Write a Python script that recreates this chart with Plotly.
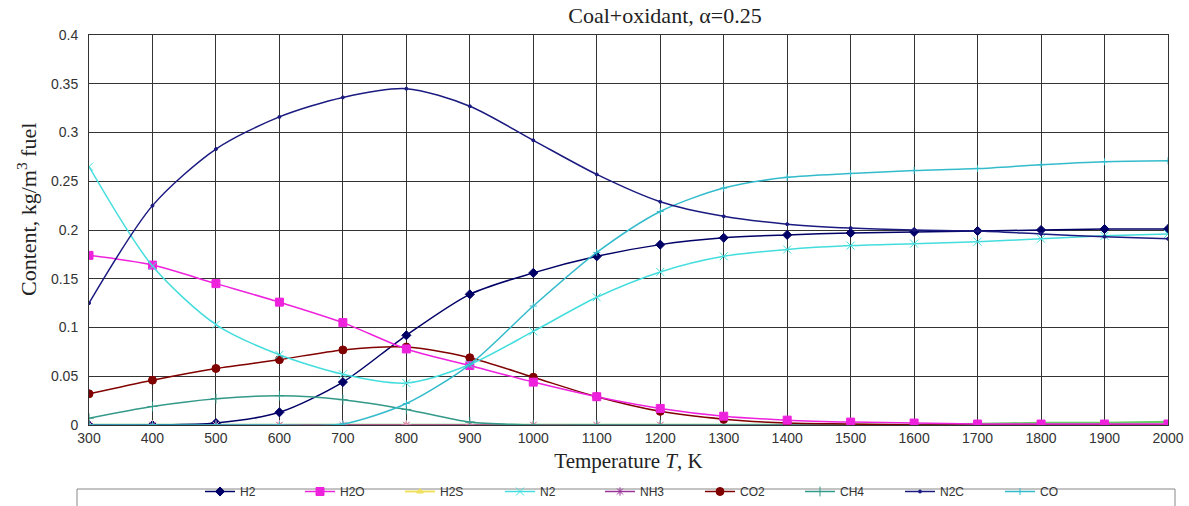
import plotly.graph_objects as go

T = [300, 400, 500, 600, 700, 800, 900, 1000, 1100, 1200, 1300, 1400, 1500, 1600, 1700, 1800, 1900, 2000]

H2 = [0.0, 0.0, 0.002, 0.013, 0.044, 0.092, 0.134, 0.156, 0.173, 0.185, 0.192, 0.195, 0.197, 0.198, 0.199, 0.200, 0.201, 0.201]
H2O = [0.174, 0.164, 0.145, 0.126, 0.105, 0.078, 0.061, 0.044, 0.029, 0.017, 0.009, 0.005, 0.003, 0.002, 0.001, 0.001, 0.001, 0.001]
H2S = [0.0] * 18
N2 = [0.265, 0.163, 0.103, 0.072, 0.052, 0.043, 0.062, 0.096, 0.131, 0.157, 0.173, 0.180, 0.184, 0.186, 0.188, 0.191, 0.194, 0.196]
NH3 = [0.0] * 18
CO2 = [0.032, 0.046, 0.058, 0.067, 0.077, 0.080, 0.069, 0.049, 0.029, 0.014, 0.006, 0.002, 0.001, 0.0, 0.0, 0.0, 0.0, 0.0]
CH4 = [0.007, 0.019, 0.027, 0.030, 0.026, 0.016, 0.003, 0.0, 0.0, 0.0, 0.0, 0.0, 0.0, 0.0, 0.0, 0.0, 0.0, 0.0]
N2C = [0.125, 0.225, 0.283, 0.316, 0.336, 0.345, 0.327, 0.292, 0.257, 0.229, 0.214, 0.206, 0.202, 0.200, 0.199, 0.196, 0.193, 0.191]
CO = [0.0, 0.0, 0.0, 0.0, 0.001, 0.022, 0.062, 0.122, 0.177, 0.219, 0.243, 0.254, 0.258, 0.261, 0.263, 0.267, 0.270, 0.271]
OTHER_GREEN = [0.0, 0.0, 0.0, 0.0, 0.0, 0.0, 0.0, 0.0, 0.0, 0.0, 0.0, 0.0, 0.0, 0.0, 0.001, 0.002, 0.002, 0.003]
OTHER_PINK = [0.0] * 18

fig = go.Figure()

def add(name, y, color, symbol, size, width=1.5, legend=True, mcolor=None):
    fig.add_trace(go.Scatter(
        x=T, y=y, name=name, mode="lines+markers" if symbol else "lines",
        line=dict(color=color, width=width, shape="spline", smoothing=0.8),
        marker=dict(symbol=symbol or "circle", size=size, color=mcolor or color,
                    line=dict(color=mcolor or color, width=1)),
        showlegend=legend,
    ))

add("OTHER_GREEN", OTHER_GREEN, "#66cc66", None, 0, width=2.5, legend=False)
add("H2S", H2S, "#f0e060", "triangle-up", 6, width=2)
add("NH3", NH3, "#993399", "asterisk-open", 7)
add("H2", H2, "#000066", "diamond", 7)
add("OTHER_PINK", OTHER_PINK, "rgba(0,0,0,0)", "asterisk-open", 8, legend=False, mcolor="#f0a0c0")
add("CH4", CH4, "#339988", "cross-thin-open", 7)
add("CO2", CO2, "#800000", "circle", 8)
add("H2O", H2O, "#ee22dd", "square", 8)
add("N2", N2, "#44dddd", "x-thin-open", 8)
add("CO", CO, "#33bbcc", "cross-thin-open", 5)
add("N2C", N2C, "#1a1a80", "circle", 3)

order = ["H2", "H2O", "H2S", "N2", "NH3", "CO2", "CH4", "N2C", "CO"]
for tr in fig.data:
    if tr.name in order:
        tr.legendrank = order.index(tr.name) + 1

axis_common = dict(
    showgrid=True, gridcolor="#333333", gridwidth=1,
    showline=True, linecolor="#333333", linewidth=1, mirror=True,
    zeroline=False, ticks="", automargin=False,
    tickfont=dict(family="Liberation Sans", size=14, color="#333333"),
)

fig.update_layout(
    width=1189, height=506,
    margin=dict(l=89, r=21, t=35, b=81),
    paper_bgcolor="white", plot_bgcolor="white",
    title=dict(text="Coal+oxidant, α=0.25", x=665 / 1189,
               xanchor="center", y=1 - 15 / 506, yanchor="middle",
               font=dict(family="Liberation Serif", size=22, color="#222222")),
    xaxis=dict(range=[300, 2000], dtick=100, tick0=300,
               title=dict(text="Temperature <i>T</i>, K", standoff=8,
                          font=dict(family="Liberation Serif", size=21, color="#222222")),
               **axis_common),
    yaxis=dict(range=[0, 0.4], dtick=0.05, ticklabelstandoff=7, **axis_common),
    annotations=[dict(text="Content, kg/m<sup>3</sup> fuel", textangle=-90,
                      xref="paper", yref="paper", x=(27 - 89) / 1079, y=(425 - 210) / 390,
                      xanchor="center", yanchor="middle", showarrow=False,
                      font=dict(family="Liberation Serif", size=22, color="#222222"))],
    legend=dict(orientation="h", xref="container", x=200 / 1189, xanchor="left",
                yref="container", y=-0.02, yanchor="bottom",
                bgcolor="rgba(0,0,0,0)", borderwidth=0,
                font=dict(family="Liberation Sans", size=12, color="#333333"),
                entrywidth=55, entrywidthmode="pixels", traceorder="normal", itemwidth=30),
    shapes=[dict(type="rect", xref="paper", yref="paper",
                 x0=(77 - 89) / 1079, x1=(1175 - 89) / 1079,
                 y0=(425 - 489) / 390, y1=(425 - 520) / 390,
                 line=dict(color="#888888", width=1), fillcolor="rgba(0,0,0,0)", layer="below")],
)

fig.write_html("out.html")
